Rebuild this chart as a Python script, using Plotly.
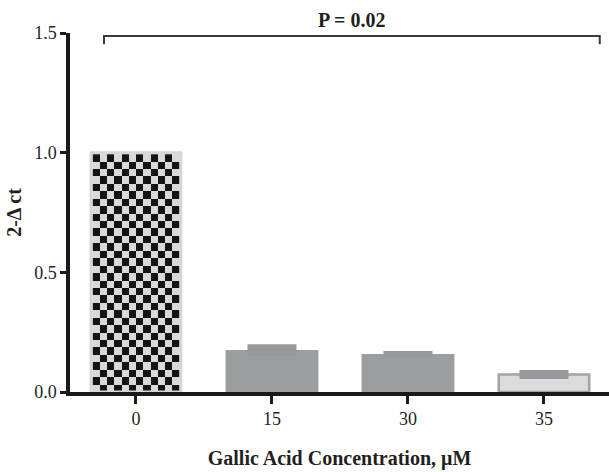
import numpy as np
import plotly.graph_objects as go

# ---- data ----
categories = ["0", "15", "30", "35"]
values = [1.0, 0.175, 0.159, 0.073]
errors = [0.0, 0.024, 0.0125, 0.019]
p_label = "P = 0.02"
y_ticks = [0.0, 0.5, 1.0, 1.5]

x_pos = list(range(len(categories)))

GRAY = "#9c9da1"
DARK = "#1a1a1a"
TXT = "#231f20"
FONT = "Liberation Serif"

bar_widths = [0.66, 0.683, 0.683, 0.665]
fill_colors = ["rgba(0,0,0,0)", GRAY, GRAY, "#dcdcdd"]
line_colors = ["#d6d6d6", GRAY, GRAY, "#a2a3a6"]
line_widths = [3, 0, 0, 2.5]

fig = go.Figure()

# checkerboard texture filling the first bar (heatmap placed from bar value/width)
n_cols, n_rows = 12, 32
inset_x = 0.011
w0 = bar_widths[0] / 2 - inset_x
x_edges = np.linspace(x_pos[0] - w0, x_pos[0] + w0, n_cols + 1)
y_edges = np.linspace(0, values[0] - 0.006, n_rows + 1)
rr, cc = np.indices((n_rows, n_cols))
checker = ((rr + cc) % 2 == 1).astype(int)
fig.add_trace(go.Heatmap(
    x=x_edges, y=y_edges, z=checker,
    colorscale=[[0, "#d9d9da"], [1, "#141414"]],
    showscale=False, zsmooth=False, hoverinfo="skip",
))

fig.add_trace(go.Bar(
    x=x_pos, y=values, width=bar_widths,
    marker=dict(color=fill_colors, line=dict(color=line_colors, width=line_widths)),
    error_y=dict(type="data", array=errors, symmetric=True, visible=True,
                 color="#97989c", thickness=49, width=0),
))

# significance bracket
bx0, bx1, by, bdrop = -0.235, 3.41, 1.4875, 0.034
fig.add_shape(type="path",
              path=f"M {bx0} {by-bdrop} L {bx0} {by} L {bx1} {by} L {bx1} {by-bdrop}",
              line=dict(color="#3a3a3a", width=2), xref="x", yref="y")
fig.add_annotation(x=(bx0 + bx1) / 2, y=1.036, xref="x", yref="paper",
                   text=f"<b>{p_label}</b>", showarrow=False,
                   font=dict(family=FONT, size=20, color=TXT), yanchor="middle")

fig.update_layout(
    width=609, height=472,
    margin=dict(l=70, r=0, t=33, b=80),
    plot_bgcolor="white", paper_bgcolor="white",
    showlegend=False, barmode="overlay",
    font=dict(family=FONT, color=TXT),
)
fig.update_xaxes(
    range=[-0.485, 3.478], tickvals=x_pos, ticktext=categories,
    showline=True, linewidth=3.5, linecolor=DARK,
    ticks="outside", ticklen=8, tickwidth=3, tickcolor=DARK,
    showgrid=False, zeroline=False,
    tickfont=dict(family=FONT, size=18, color=TXT),
    title=dict(text="<b>Gallic Acid Concentration, μM</b>", standoff=24,
               font=dict(family=FONT, size=20, color=TXT)),
)
fig.update_yaxes(
    range=[0, 1.5], tickvals=y_ticks, tickformat=".1f",
    showline=True, linewidth=3.5, linecolor=DARK,
    ticks="outside", ticklen=6, tickwidth=3, tickcolor=DARK,
    showgrid=False, zeroline=False,
    tickfont=dict(family=FONT, size=18, color=TXT),
    title=dict(text="<b>2-Δ ct</b>", standoff=8,
               font=dict(family=FONT, size=20, color=TXT)),
)

fig.write_html("out.html")
